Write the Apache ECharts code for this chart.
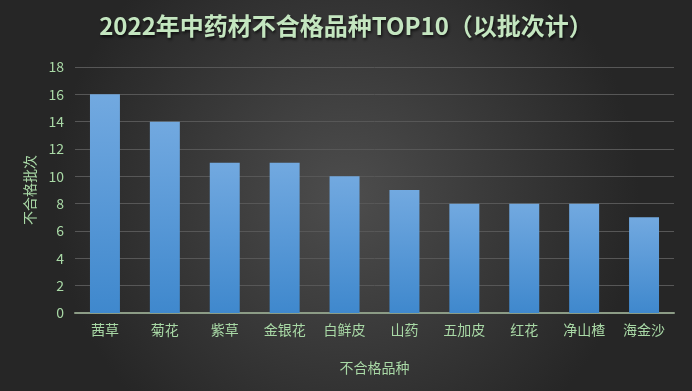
<!DOCTYPE html>
<html><head><meta charset="utf-8">
<script src="https://cdn.jsdelivr.net/npm/echarts@6/dist/echarts.min.js"></script>
<style>html,body{margin:0;padding:0;}#c{width:692px;height:391px;}</style>
</head><body><div id="c"></div>
<script>
const categories = ['茜草','菊花','紫草','金银花','白鲜皮','山药','五加皮','红花','净山楂','海金沙'];
const values = [16,14,11,11,10,9,8,8,8,7];
const titleText = '2022年中药材不合格品种TOP10（以批次计）';
const txt = '#a9d9a6';
const font = '"Noto Sans CJK SC", "Noto Sans", sans-serif';
const chart = echarts.init(document.getElementById('c'));
chart.setOption({
  backgroundColor: {type:'radial', x:0.5, y:0.5, r:0.75, colorStops:[{offset:0,color:'#4d4d4d'},{offset:1,color:'#262626'}]},
  textStyle:{fontFamily:font},
  title:{text:titleText, left:'center', top:9, textStyle:{color:'#c4e6c0', fontSize:24, fontWeight:'bold', fontFamily:font, textShadowColor:'rgba(0,0,0,0.7)', textShadowBlur:3, textShadowOffsetX:1, textShadowOffsetY:2}},
  grid:{left:75, right:18, top:67, bottom:78},
  xAxis:{type:'category', data:categories, name:'不合格品种', nameLocation:'middle', nameGap:48,
    nameTextStyle:{color:txt, fontSize:14},
    axisLine:{lineStyle:{color:'#8c9c86', width:2}}, axisTick:{show:false},
    axisLabel:{color:txt, fontSize:14, margin:10}},
  yAxis:{type:'value', min:0, max:18, interval:2, name:'不合格批次', nameLocation:'middle', nameGap:38, nameRotate:90,
    nameTextStyle:{color:txt, fontSize:14},
    axisLine:{show:false}, axisTick:{show:false},
    axisLabel:{color:txt, fontSize:14, margin:11},
    splitLine:{lineStyle:{color:'#575757', width:1}}},
  series:[{type:'bar', data:values, barWidth:'50%',
    itemStyle:{color:{type:'linear',x:0,y:0,x2:0,y2:1,colorStops:[{offset:0,color:'#72a9e0'},{offset:1,color:'#3f88cd'}]},
      shadowColor:'rgba(0,0,0,0.45)', shadowBlur:6, shadowOffsetX:2, shadowOffsetY:0}}]
});
</script></body></html>
